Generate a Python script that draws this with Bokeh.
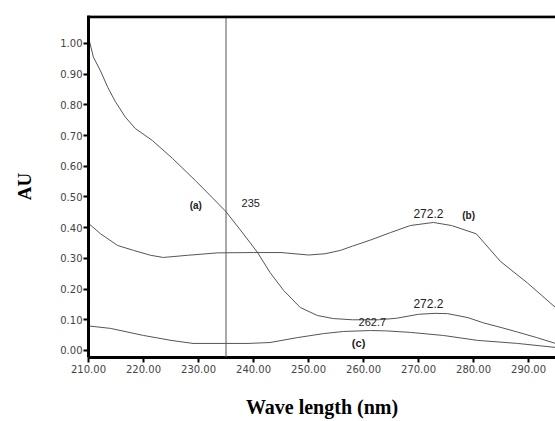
from bokeh.plotting import figure
from bokeh.models import Span, Label, FixedTicker
from bokeh.embed import file_html
from bokeh.resources import INLINE

# Curve (a)
wl_a = [210, 210.9, 212.2, 213.5, 214.9, 216.7, 218.5, 221.6, 225.3, 229.4, 232.5, 235, 237.5,
        240.7, 243, 245.5, 248.5, 251.6, 254.5, 258, 262.7, 266, 270, 273, 275.3, 279, 281.8,
        285, 288, 291.5, 294.9]
au_a = [1.02, 0.955, 0.91, 0.857, 0.81, 0.76, 0.723, 0.684, 0.625, 0.554, 0.498, 0.452, 0.395,
        0.32, 0.254, 0.195, 0.14, 0.114, 0.104, 0.10, 0.10, 0.105, 0.118, 0.121, 0.12, 0.107,
        0.09, 0.075, 0.06, 0.042, 0.023]
# Curve (b)
wl_b = [210, 212.2, 215.3, 218.2, 221.3, 223.6, 228, 233.5, 240, 245, 250, 253, 255.8, 258,
        261.3, 264.9, 268.5, 272.7, 276, 280.5, 284.9, 289.8, 294.9]
au_b = [0.414, 0.38, 0.342, 0.326, 0.31, 0.303, 0.31, 0.318, 0.319, 0.319, 0.311, 0.315, 0.326,
        0.34, 0.36, 0.384, 0.407, 0.417, 0.407, 0.38, 0.29, 0.22, 0.14]
# Curve (c)
wl_c = [210, 214, 220, 225, 229, 235, 239, 243, 248, 252.7, 256.4, 261.3, 264, 268.5, 274.5,
        280.7, 288, 294.9]
au_c = [0.08, 0.072, 0.049, 0.033, 0.023, 0.023, 0.023, 0.026, 0.042, 0.055, 0.062, 0.065,
        0.064, 0.059, 0.049, 0.033, 0.023, 0.01]

x_ticks = [210, 220, 230, 240, 250, 260, 270, 280, 290]
x_tick_labels = ["210.00", "220.00", "230.00", "240.00", "250.00", "260.00", "270.00", "280.00", "290.00"]
y_ticks = [0.0, 0.1, 0.2, 0.3, 0.4, 0.5, 0.6, 0.7, 0.8, 0.9, 1.0]
y_tick_labels = ["0.00", "0.10", "0.20", "0.30", "0.40", "0.50", "0.60", "0.70", "0.80", "0.90", "1.00"]

marker_wl = 235

X_END = 294.9
Y_END = 1.091

p = figure(width=555, height=421, output_backend="svg", toolbar_location=None,
           x_range=(210, X_END), y_range=(-0.0228, Y_END),
           min_border_left=88, min_border_right=0, min_border_top=15, min_border_bottom=64)
p.background_fill_color = "white"
p.border_fill_color = "white"
p.outline_line_color = None
p.xgrid.visible = False
p.ygrid.visible = False

line_color = "#555555"
p.line(wl_a, au_a, line_color=line_color, line_width=1)
p.line(wl_b, au_b, line_color=line_color, line_width=1)
p.line(wl_c, au_c, line_color=line_color, line_width=1)

p.add_layout(Span(location=marker_wl, dimension="height", line_color="#555555", line_width=1))
p.add_layout(Span(location=Y_END - 0.004, dimension="width", line_color="black", line_width=3))

for ax in (p.xaxis[0], p.yaxis[0]):
    ax.axis_line_width = 3
    ax.axis_line_color = "black"
    ax.major_tick_line_color = "black"
    ax.major_tick_line_width = 2
    ax.major_tick_out = 5
    ax.major_tick_in = 0
    ax.minor_tick_line_color = None
    ax.major_label_text_font = "DejaVu Sans"
    ax.major_label_text_font_size = "10px"
    ax.major_label_text_color = "#444444"
    ax.axis_label_text_font = "Liberation Serif"
    ax.axis_label_text_font_style = "bold"
    ax.axis_label_text_color = "black"

p.xaxis.ticker = FixedTicker(ticks=x_ticks)
p.xaxis.major_label_overrides = dict(zip(x_ticks, x_tick_labels))
p.yaxis.ticker = FixedTicker(ticks=y_ticks)
p.yaxis.major_label_overrides = dict(zip(y_ticks, y_tick_labels))

p.xaxis.axis_label = "Wave length (nm)"
p.xaxis.axis_label_text_font_size = "20px"
p.xaxis.axis_label_standoff = 20
p.xaxis.major_label_standoff = 2

p.yaxis.axis_label = "AU"
p.yaxis.axis_label_text_font_size = "19px"
p.yaxis.axis_label_standoff = 22
p.yaxis.major_label_standoff = 1

def lab(x, y, t, bold=False, size="11px"):
    p.add_layout(Label(x=x, y=y, text=t, text_font="Liberation Sans",
                       text_font_size=size, text_font_style="bold" if bold else "normal",
                       text_color="#222222", text_align="center", text_baseline="middle"))

lab(229.5, 0.472, "(a)", bold=True, size="10px")
lab(239.5, 0.479, "235", size="11px")
lab(271.8, 0.446, "272.2", size="12px")
lab(279.1, 0.44, "(b)", bold=True, size="10px")
lab(271.8, 0.153, "272.2", size="12px")
lab(261.6, 0.094, "262.7", size="11px")
lab(259.1, 0.026, "(c)", bold=True, size="11px")

open("out.html", "w").write(file_html(p, INLINE))
